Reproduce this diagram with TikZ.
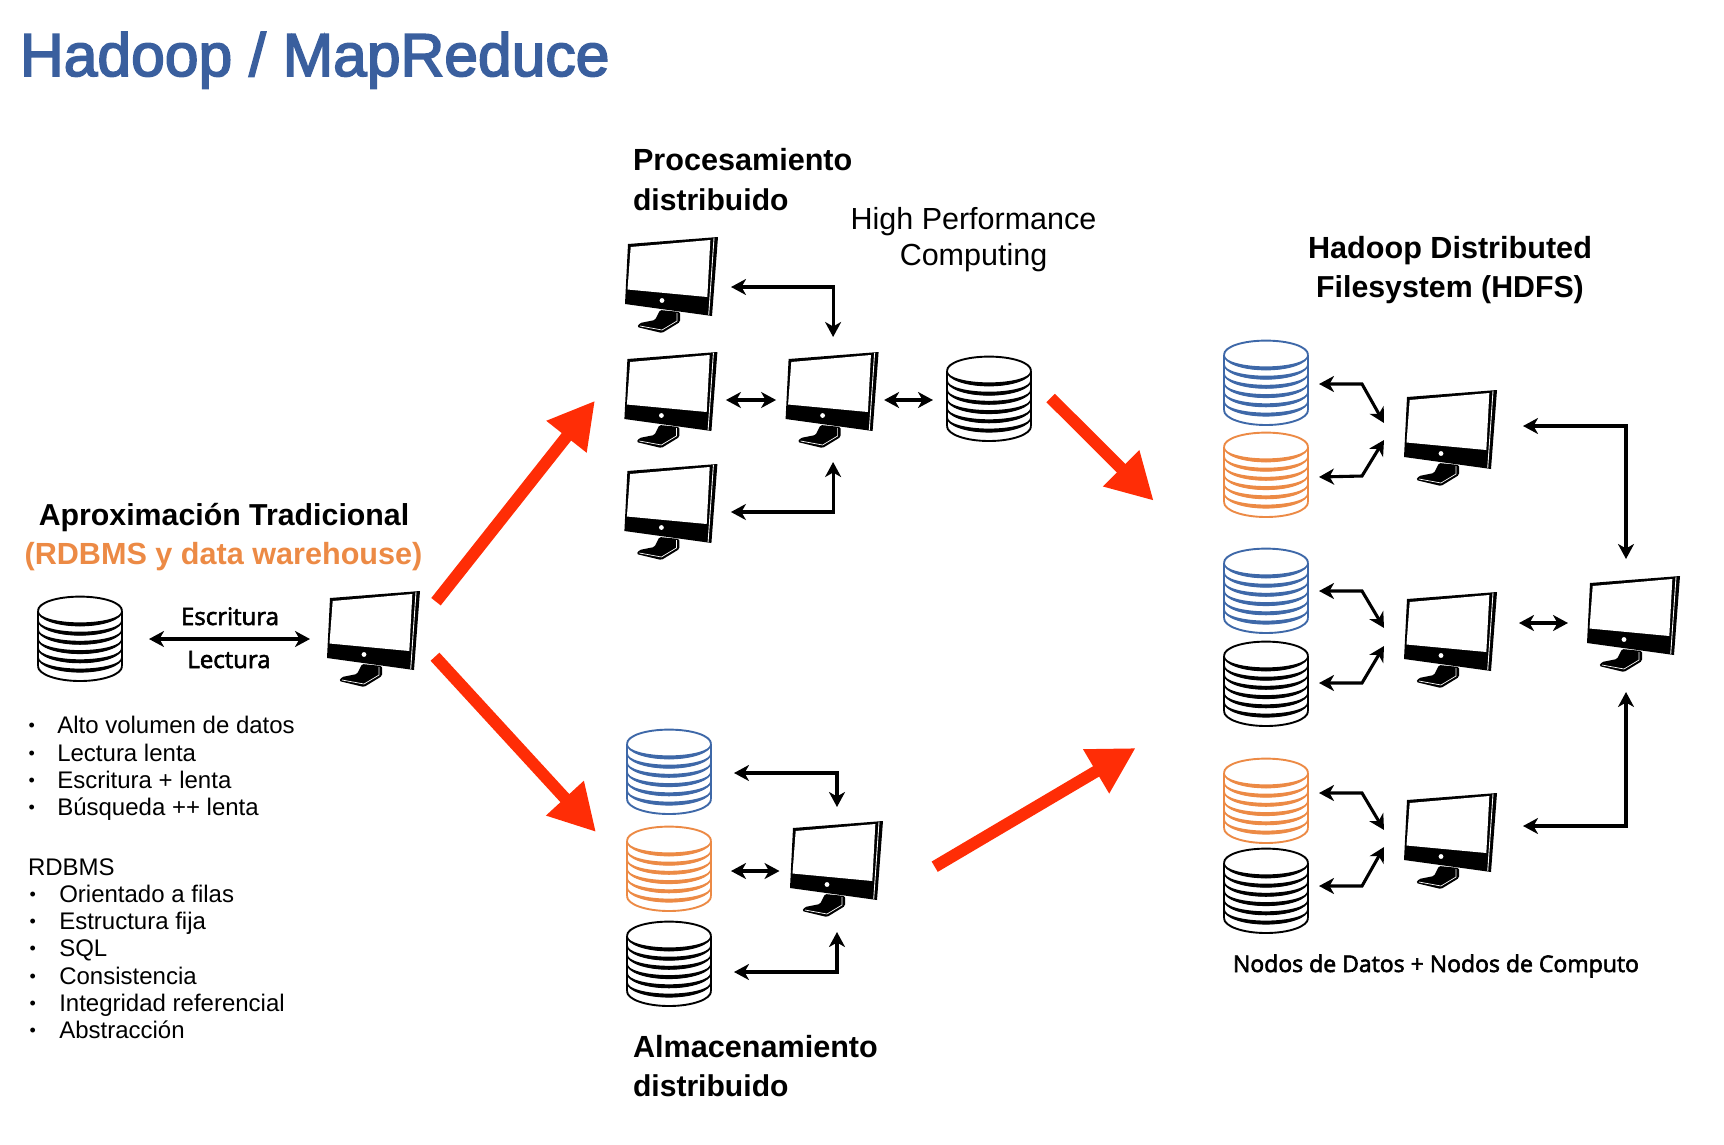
\documentclass[tikz,border=0pt]{standalone}
\usepackage{fontspec}
\setmainfont{Liberation Sans}
\newfontfamily\lucida{Open Sans}
\usetikzlibrary{arrows.meta,calc}
\definecolor{cblue}{HTML}{3E68A8}
\definecolor{corange}{HTML}{EC8A45}
\definecolor{cblack}{HTML}{000000}
\definecolor{cred}{HTML}{FF2D06}
\definecolor{ctitle}{HTML}{3A5F9E}
\newcommand{\fs}[1]{\fontsize{#1}{#1}\selectfont}
% text drawn with a thin outline, for the medium weights of the original
\newcommand{\heavy}[3]{\special{pdf:code q #2 RG #1 w 2 Tr}#3\special{pdf:code 0 Tr Q}}
\tikzset{
  x=1pt,y=-1pt,
  txt/.style={inner sep=0pt,outer sep=0pt,anchor=base west,text=black},
  txtc/.style={inner sep=0pt,outer sep=0pt,anchor=base,text=black},
  btxt/.style={txt,font=\fs{30.6}\bfseries},
  btxtc/.style={txtc,font=\fs{30.6}\bfseries},
  ltxt/.style={txt,font=\fs{24}},
  blt/.style={txt,font=\fs{18}},
  lbl/.style={txtc,font=\lucida\fs{23}},
  arr/.style={line width=3.1pt,{Stealth[length=15pt,width=16pt,inset=4.5pt]}-{Stealth[length=15pt,width=16pt,inset=4.5pt]}},
  bigarr/.style={cred,line width=12pt,-{Triangle[length=46pt,width=48pt]}},
  boxm/.style={inner sep=0pt,outer sep=0pt,minimum width=93pt,minimum height=96pt,anchor=north west},
  boxc/.style={inner sep=0pt,outer sep=0pt,minimum width=86pt,minimum height=86pt,anchor=north west},
}
% half ellipse (lower half), centre y=#1, radius y=#2
\newcommand{\lowarc}[2]{(0,#1) .. controls (0,#1+0.5523*#2) and (18.8,#1+#2) .. (42,#1+#2) .. controls (65.2,#1+#2) and (84,#1+0.5523*#2) .. (84,#1)}
\newcommand{\backarc}[2]{.. controls (84,#1+0.5523*#2) and (65.2,#1+#2) .. (42,#1+#2) .. controls (18.8,#1+#2) and (0,#1+0.5523*#2) .. (0,#1)}
\newcommand{\monitor}[3]{%
  \node[boxm] (#1) at (#2,#3) {};
  \begin{scope}[shift={(#2,#3)}]
    \fill[black] (3,7) -- (93,0) -- (87,79) -- (0,67) -- cycle;
    \fill[white] (5.7,10) -- (85.3,3) -- (82.3,60) -- (2.5,52.5) -- cycle;
    \draw[white,line width=0.9pt] (89,1) -- (83.7,78);
    \fill[white] (37,63.5) circle[radius=2.4];
    \fill[black,rounded corners=1.5pt] (35,73) -- (55,75) -- (55,85) -- (37,96) -- (12,90) -- (15,86) -- (30,83) -- cycle;
    \draw[white,line width=0.7pt] (15,89) -- (37,93) -- (52,84) -- (52,76);
  \end{scope}}
\newcommand{\cyl}[4]{%
  \node[boxc] (#1) at (#2,#3-1) {};
  \begin{scope}[shift={(#2+1,#3-1)},#4]
    \draw[line width=1.9pt] (0,14.8) -- (0,70.2) (84,14.8) -- (84,70.2);
    \draw[line width=1.9pt] (0,14.8) .. controls (0,6.6) and (18.8,0.6) .. (42,0.6) .. controls (65.2,0.6) and (84,6.6) .. (84,14.8);
    \foreach \yy in {14.8,24.1,33.2,42.5,51.7,61} {
      \fill \lowarc{\yy}{15.2} \backarc{\yy}{11.6} -- cycle;
      \draw[line width=1.5pt] \lowarc{\yy}{14.8};
    }
    \draw[line width=1.9pt] \lowarc{70.2}{14.8};
  \end{scope}}
\begin{document}
\begin{tikzpicture}
\useasboundingbox (0,0) rectangle (1724,1144);
% title
\node[txt,text=ctitle,font=\fs{60.6}] (title) at (20,76) {\heavy{1.7}{0.227 0.373 0.62}{Hadoop / MapReduce}};
% left
\node[btxtc,font=\fs{30.3}\bfseries] (aprox) at (224,525.5) {Aproximación Tradicional};
\node[btxtc,text=corange] (rdbmsw) at (223.5,564) {(RDBMS y data warehouse)};
\cyl{c0}{37}{597}{cblack,color=cblack}
\monitor{tm}{327}{591}
\draw[arr] ([shift={(69,0)}]c0.center) -- ([shift={(-63.5,0)}]tm.center);
\node[lbl,font=\lucida\fs{24}] (esc) at (230,625) {\heavy{0.6}{0 0 0}{Escritura}};
\node[lbl,font=\lucida\fs{24}] (lec) at (229,668) {\heavy{0.6}{0 0 0}{Lectura}};
% lists
\foreach \nm/\yy/\tt in {a/733/Alto volumen de datos,b/761.7/Lectura lenta,c/788.3/Escritura + lenta,d/815.7/Búsqueda ++ lenta}{
  \node[blt] (bu\nm) at (28.5,\yy-2) {•};
  \node[ltxt] (li\nm) at (57.3,\yy) {\tt};
}
\node[ltxt] (rdbms) at (28,875) {RDBMS};
\foreach \nm/\yy/\tt in {e/902.3/Orientado a filas,f/929.3/Estructura fija,g/956.7/SQL,h/984.3/Consistencia,i/1011.7/Integridad referencial,j/1038.3/Abstracción}{
  \node[blt] (bu\nm) at (29.5,\yy-2) {•};
  \node[ltxt] (li\nm) at (59.3,\yy) {\tt};
}
% top cluster
\node[btxt] (proc1) at (633,170) {Procesamiento};
\node[btxt,font=\fs{30.1}\bfseries] (proc2) at (633,210) {distribuido};
\node[txtc,font=\fs{30.5}] (hp1) at (973.5,229.5) {High Performance};
\node[txtc,font=\fs{30.5}] (hp2) at (973.5,265.5) {Computing};
\monitor{t1}{625}{237}
\monitor{t2}{624.4}{352}
\monitor{t3}{624.4}{464}
\monitor{cm}{785.6}{352}
\cyl{pc}{946}{357}{cblack,color=cblack}
\draw[arr] ([shift={(59.5,2)}]t1.center) -| ([shift={(1,-63)}]cm.center);
\draw[arr] ([shift={(60,0)}]t3.center) -| ([shift={(1,62)}]cm.center);
\draw[arr] ([shift={(55,0)}]t2.center) -- ([shift={(-56,0)}]cm.center);
\draw[arr] ([shift={(52,0)}]cm.center) -- ([shift={(-56,1)}]pc.center);
% bottom cluster
\cyl{sb}{626}{730}{cblue,color=cblue}
\cyl{so}{626}{827}{corange,color=corange}
\cyl{sk}{626}{922}{cblack,color=cblack}
\monitor{sm}{790}{821}
\draw[arr] ([shift={(65,1)}]sb.center) -| ([shift={(0.5,-62)}]sm.center);
\draw[arr] ([shift={(62,2)}]so.center) -- ([shift={(-57,2)}]sm.center);
\draw[arr] ([shift={(65,8)}]sk.center) -| ([shift={(0.5,63)}]sm.center);
\node[btxt] (alm1) at (633,1057) {Almacenamiento};
\node[btxt,font=\fs{30.1}\bfseries] (alm2) at (633,1096) {distribuido};
% HDFS
\node[btxtc] (hd1) at (1450,258) {Hadoop Distributed};
\node[btxtc,font=\fs{30.3}\bfseries] (hd2) at (1450,297) {Filesystem (HDFS)};
\cyl{b1}{1223}{341}{cblue,color=cblue}
\cyl{o1}{1223}{433}{corange,color=corange}
\cyl{b2}{1223}{549}{cblue,color=cblue}
\cyl{k2}{1223}{642}{cblack,color=cblack}
\cyl{o3}{1223}{759}{corange,color=corange}
\cyl{k3}{1223}{849}{cblack,color=cblack}
\monitor{h1}{1404}{390}
\monitor{h2}{1404}{592}
\monitor{h3}{1404}{793}
\monitor{hr}{1587}{576}
\draw[arr] ([shift={(53,1)}]b1.center) -- ([shift={(96,1)}]b1.center) -- ([shift={(-66.5,-15)}]h1.center);
\draw[arr] ([shift={(53,2)}]o1.center) -- ([shift={(96,1)}]o1.center) -- ([shift={(-66.5,2)}]h1.center);
\draw[arr] ([shift={(53,0)}]b2.center) -- ([shift={(96,0)}]b2.center) -- ([shift={(-66.5,-12)}]h2.center);
\draw[arr] ([shift={(53,-1)}]k2.center) -- ([shift={(96,-1)}]k2.center) -- ([shift={(-66.5,6)}]h2.center);
\draw[arr] ([shift={(53,-8)}]o3.center) -- ([shift={(96,-8)}]o3.center) -- ([shift={(-66.5,-11)}]h3.center);
\draw[arr] ([shift={(53,-5)}]k3.center) -- ([shift={(96,-5)}]k3.center) -- ([shift={(-66.5,6)}]h3.center);
\draw[arr] ([shift={(72.5,-12)}]h1.center) -| ([shift={(-7.5,-65)}]hr.center);
\draw[arr] ([shift={(72.5,-15)}]h3.center) -| ([shift={(-7.5,68)}]hr.center);
\draw[arr] ([shift={(68.5,-17)}]h2.center) -- ([shift={(-65.5,-1)}]hr.center);
\node[lbl,anchor=base west] (nod) at (1233,972) {\heavy{0.6}{0 0 0}{Nodos de Datos + Nodos de Computo}};
% red arrows
\coordinate (r1a) at (436,601.7); \coordinate (r1b) at (595,400.7);
\coordinate (r2a) at (435,656.7); \coordinate (r2b) at (596,832);
\coordinate (r3a) at (1050.7,398); \coordinate (r3b) at (1153.7,500.7);
\coordinate (r4a) at (934.7,866.7); \coordinate (r4b) at (1135.7,748);
\draw[bigarr] (r1a) -- (r1b);
\draw[bigarr] (r2a) -- (r2b);
\draw[bigarr] (r3a) -- (r3b);
\draw[bigarr] (r4a) -- (r4b);
\end{tikzpicture}
\end{document}
